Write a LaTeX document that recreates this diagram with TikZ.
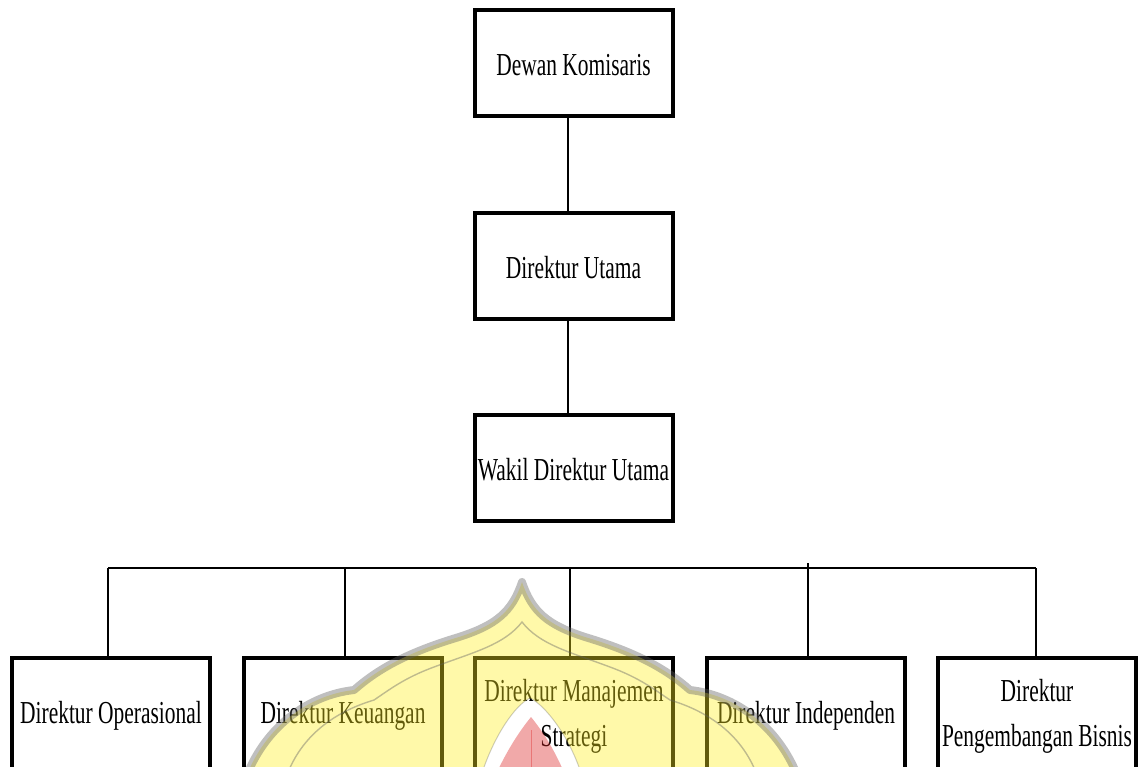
\documentclass[tikz,border=0pt]{standalone}
\usepackage{fontspec}
\setmainfont[FakeStretch=0.67]{Liberation Serif}
\usepackage{tikz}

\definecolor{wmyellow}{RGB}{255,238,30}
\definecolor{wmgray}{RGB}{95,95,95}
\definecolor{wmred}{RGB}{220,40,40}

\begin{document}
\begin{tikzpicture}[x=0.5pt, y=-0.5pt,
    jabatan/.style={draw, line width=2pt, minimum width=99pt, minimum height=53pt,
        inner sep=1pt, align=center, font=\fontsize{16}{22.5}\selectfont},
    jabatanatas/.style={jabatan, text height=12.5pt, text depth=0pt},
    jabatanbawah/.style={jabatan, minimum height=58pt},
    conn/.style={line width=0.7pt}]
    \useasboundingbox (0,0) rectangle (1138,766);
    \clip (0,0) rectangle (1138,766);

    % pimpinan
    \node[jabatanatas] (komisaris) at (573.5,63) {Dewan Komisaris};
    \node[jabatanatas] (dirut) at (573.5,265.5) {Direktur Utama};
    \node[jabatanatas] (wadirut) at (573.5,468) {Wakil Direktur Utama};

    \coordinate (spine) at (568,0);
    \draw[conn] (komisaris.south -| spine) -- (dirut.north -| spine);
    \draw[conn] (dirut.south -| spine) -- (wadirut.north -| spine);

    % para direktur
    \node[jabatanbawah] (ops) at (111,716) {Direktur Operasional};
    \node[jabatanbawah] (keu) at (343,716) {Direktur Keuangan};
    \node[jabatanbawah] (strat) at (574,716) {Direktur Manajemen\\Strategi};
    \node[jabatanbawah] (indep) at (806,716) {Direktur Independen};
    \node[jabatanbawah] (bisnis) at (1037,716) {Direktur\\Pengembangan Bisnis};

    \coordinate (barL) at (108,568);
    \coordinate (barR) at (1036,568);
    \draw[conn] (barL) -- (barR);
    \foreach \n/\x in {ops/108, keu/345, strat/570, bisnis/1036}
        \draw[conn] (\x,568) -- (\n.north -| \x,0);
    \draw[conn] (808,563) -- (indep.north -| 808,0);

    % watermark
    \fill[wmyellow, fill opacity=0.38, even odd rule]
        (249,770) .. controls (269,725) and (309,695) .. (354,690)
        .. controls (379,668) and (409,652) .. (459,637)
        .. controls (496,625) and (512,612) .. (522,582)
        .. controls (532,612) and (548,625) .. (585,637)
        .. controls (635,652) and (665,668) .. (690,690)
        .. controls (735,695) and (775,725) .. (795,770) -- cycle
        (483,770) .. controls (495,735) and (515,705) .. (530,698)
        .. controls (545,705) and (568,735) .. (580,770) -- cycle;
    \draw[wmgray, line width=4pt, draw opacity=0.4, line join=round]
        (249,770) .. controls (269,725) and (309,695) .. (354,690)
        .. controls (379,668) and (409,652) .. (459,637)
        .. controls (496,625) and (512,612) .. (522,582)
        .. controls (532,612) and (548,625) .. (585,637)
        .. controls (635,652) and (665,668) .. (690,690)
        .. controls (735,695) and (775,725) .. (795,770);
    \draw[wmgray, line width=0.7pt, draw opacity=0.4]
        (289,770) .. controls (304,735) and (334,712) .. (374,700)
        .. controls (389,690) and (404,678) .. (434,667)
        .. controls (474,652) and (504,645) .. (522,622)
        .. controls (540,645) and (570,652) .. (610,667)
        .. controls (640,678) and (655,690) .. (670,700)
        .. controls (710,712) and (740,735) .. (755,770);
    \draw[wmgray, line width=0.5pt, draw opacity=0.3]
        (483,770) .. controls (495,735) and (515,705) .. (530,698)
        .. controls (545,705) and (568,735) .. (580,770);
    \fill[wmred, fill opacity=0.4]
        (498,770) .. controls (510,745) and (522,728) .. (531,717)
        .. controls (540,728) and (552,745) .. (563,770) -- cycle;
    \draw[wmred, line width=0.5pt, draw opacity=0.4] (531,730) -- (531,770);
\end{tikzpicture}
\end{document}
